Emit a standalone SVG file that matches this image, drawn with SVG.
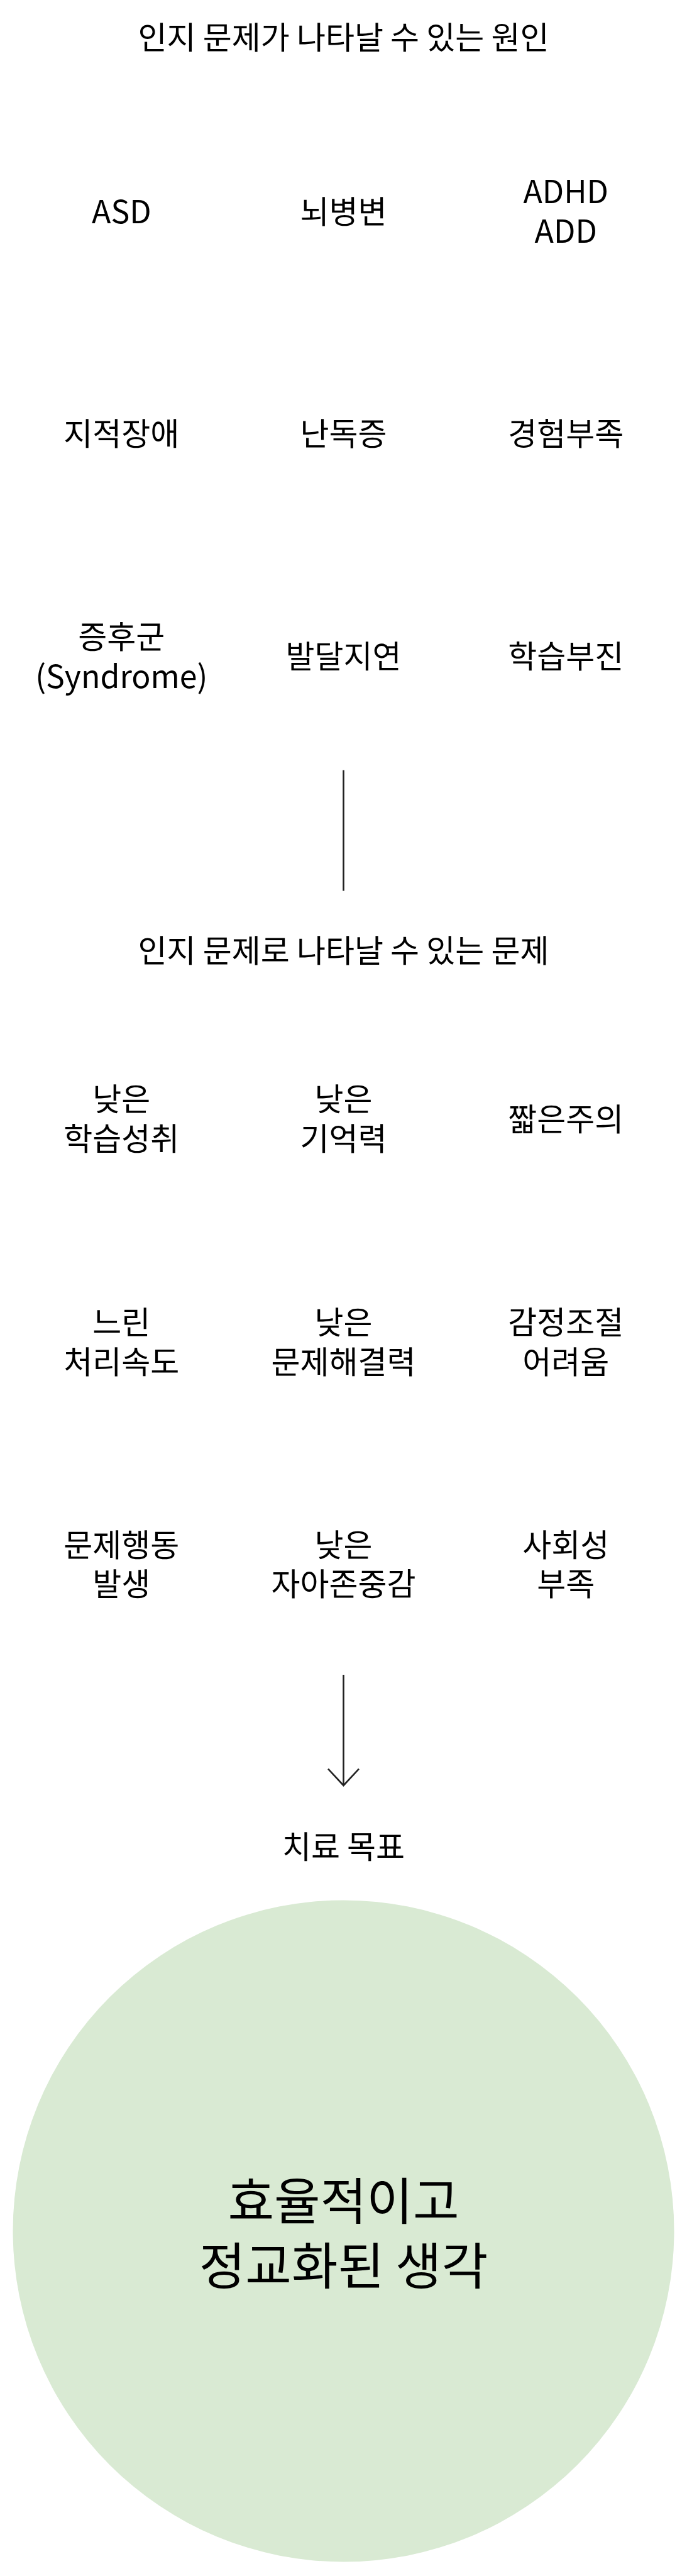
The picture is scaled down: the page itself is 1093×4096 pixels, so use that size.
<svg xmlns="http://www.w3.org/2000/svg" width="1093" height="4096" viewBox="0 0 1093 4096">
<style>
  text { font-family: "Noto Sans CJK KR", "Noto Sans", sans-serif; fill: #000; text-anchor: middle; dominant-baseline: central; }
  .t { font-size: 50px; }
  .big { font-size: 80px; }
  .conn { stroke: #222; stroke-width: 2.6; fill: none; }
</style>
<rect width="1093" height="4096" fill="#ffffff"/>

<g id="title-causes"><text class="t" x="546.5" y="56">인지 문제가 나타날 수 있는 원인</text></g>

<g id="asd"><text class="t" x="193.3" y="332.6">ASD</text></g>
<g id="brain"><text class="t" x="546.5" y="332.6">뇌병변</text></g>
<g id="adhd"><text class="t" x="900.2" y="301.2">ADHD</text><text class="t" x="900.2" y="364">ADD</text></g>

<g id="intellectual"><text class="t" x="193.3" y="686.4">지적장애</text></g>
<g id="dyslexia"><text class="t" x="546.5" y="686.4">난독증</text></g>
<g id="experience"><text class="t" x="900.2" y="686.4">경험부족</text></g>

<g id="syndrome"><text class="t" x="193.3" y="1008.8">증후군</text><text class="t" x="193.3" y="1071.6">(Syndrome)</text></g>
<g id="devdelay"><text class="t" x="546.5" y="1040.2">발달지연</text></g>
<g id="learning"><text class="t" x="900.2" y="1040.2">학습부진</text></g>

<g id="title-problems"><text class="t" x="546.5" y="1508">인지 문제로 나타날 수 있는 문제</text></g>

<g id="low-achievement"><text class="t" x="193.3" y="1744.4">낮은</text><text class="t" x="193.3" y="1807.2">학습성취</text></g>
<g id="low-memory"><text class="t" x="546.5" y="1744.4">낮은</text><text class="t" x="546.5" y="1807.2">기억력</text></g>
<g id="short-attention"><text class="t" x="900.2" y="1775.8">짧은주의</text></g>

<g id="slow-speed"><text class="t" x="193.3" y="2098.9">느린</text><text class="t" x="193.3" y="2161.7">처리속도</text></g>
<g id="low-problem-solving"><text class="t" x="546.5" y="2098.9">낮은</text><text class="t" x="546.5" y="2161.7">문제해결력</text></g>
<g id="emotion"><text class="t" x="900.2" y="2098.9">감정조절</text><text class="t" x="900.2" y="2161.7">어려움</text></g>

<g id="behavior"><text class="t" x="193.3" y="2452.6">문제행동</text><text class="t" x="193.3" y="2515.4">발생</text></g>
<g id="low-esteem"><text class="t" x="546.5" y="2452.6">낮은</text><text class="t" x="546.5" y="2515.4">자아존중감</text></g>
<g id="social"><text class="t" x="900.2" y="2452.6">사회성</text><text class="t" x="900.2" y="2515.4">부족</text></g>

<g id="title-goal"><text class="t" x="546.5" y="2932.8">치료 목표</text></g>

<g id="goal">
  <circle cx="546.5" cy="3547.5" r="526" fill="#d9ead3"/>
  <text class="big" x="546.5" y="3493.5">효율적이고</text>
  <text class="big" x="546.5" y="3596.7">정교화된 생각</text>
</g>

<g id="connectors">
  <line class="conn" x1="546.5" y1="1224.6" x2="546.5" y2="1416.5"/>
  <line class="conn" x1="546.5" y1="2663" x2="546.5" y2="2838"/>
  <polyline class="conn" points="522,2812.6 546.5,2839 571,2812.6"/>
</g>
</svg>
